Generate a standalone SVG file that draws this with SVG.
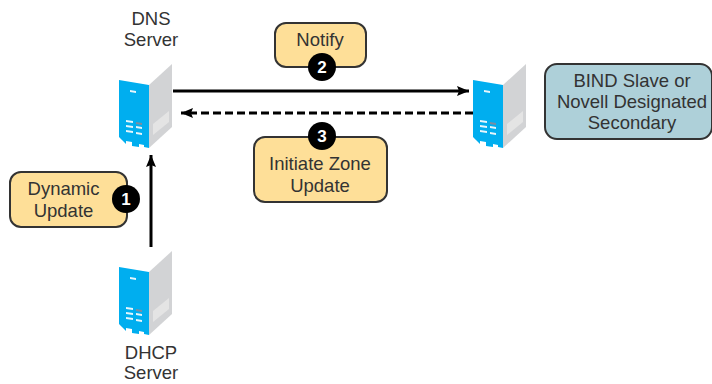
<svg xmlns="http://www.w3.org/2000/svg" width="712" height="384" viewBox="0 0 712 384">
<style>
text{font-family:"Liberation Sans",Arial,sans-serif;font-size:18.5px;fill:#333;text-anchor:middle}
.y{fill:#fedf98;stroke:#333;stroke-width:2}
.b{fill:#aed0d9;stroke:#333;stroke-width:2}
.c{fill:#000}
.n{fill:#fff;font-weight:bold;font-size:17px}
.l{fill:none;stroke:#000;stroke-width:3}
.d{stroke-dasharray:8 4}
.sf{fill:#00aeef}
.ss{fill:#d2d3d5}
.sg{fill:#e4e4e4}
.sw{fill:#e6f6fc}
.sm{fill:#7d8ca0}
</style>
<defs>
<marker id="a" markerUnits="userSpaceOnUse" markerWidth="14" markerHeight="14" refX="12" refY="7" orient="auto"><path d="M0 2L12 7L0 12L2 7Z" fill="#000"/></marker>
<g id="srv">
<path class="ss" d="M30 21L53 0V63L30 84Z"/>
<path class="sg" d="M34 71L50 58V47L34 60Z"/>
<path class="sf" d="M0 16L30 21V84L25 83V81L20 80V83L13 82V78L7 77V80L3 76L0 73Z"/>
<path class="sw" d="M11 26L17 27V29L11 28Z"/>
<path class="sw" d="M7 56L14 57V59L7 58ZM7 61L14 62V64L7 63ZM7 66L14 67V69L7 68Z"/>
<path class="sm" d="M17 58L23 59V61L17 60Z"/>
<path class="sw" d="M17 62L23 63V65L17 64ZM17 68L23 69V71L17 70Z"/>
</g>
</defs>
<g id="connectors">
<path class="l" d="M173 91H469" marker-end="url(#a)"/>
<path class="l d" d="M473 113H181" marker-end="url(#a)"/>
<path class="l" d="M151 247V155" marker-end="url(#a)"/>
</g>
<g id="dns-server">
<use href="#srv" x="119" y="64"/>
<text x="151" y="25">DNS</text><text x="151" y="46">Server</text>
</g>
<g id="secondary-server">
<use href="#srv" x="473" y="64"/>
</g>
<g id="dhcp-server">
<use href="#srv" x="119" y="251"/>
<text x="151" y="359">DHCP</text><text x="151" y="379">Server</text>
</g>
<g id="secondary-label">
<rect class="b" x="545" y="64" width="167" height="75" rx="12"/>
<text x="632" y="87">BIND Slave or</text><text x="632" y="108">Novell Designated</text><text x="632" y="129">Secondary</text>
</g>
<g id="notify">
<rect class="y" x="275" y="23" width="91" height="44" rx="11"/>
<text x="320" y="46">Notify</text>
<circle class="c" cx="322" cy="67" r="14"/><text class="n" x="322" y="73">2</text>
</g>
<g id="initiate">
<rect class="y" x="254" y="137" width="133" height="65" rx="11"/>
<text x="320" y="170">Initiate Zone</text><text x="320" y="192">Update</text>
<circle class="c" cx="322" cy="136" r="14"/><text class="n" x="322" y="142">3</text>
</g>
<g id="dynamic">
<rect class="y" x="10" y="172" width="117" height="55" rx="11"/>
<text x="63.5" y="195">Dynamic</text><text x="63.5" y="217">Update</text>
<circle class="c" cx="126" cy="199" r="14"/><text class="n" x="126" y="205">1</text>
</g>
</svg>
